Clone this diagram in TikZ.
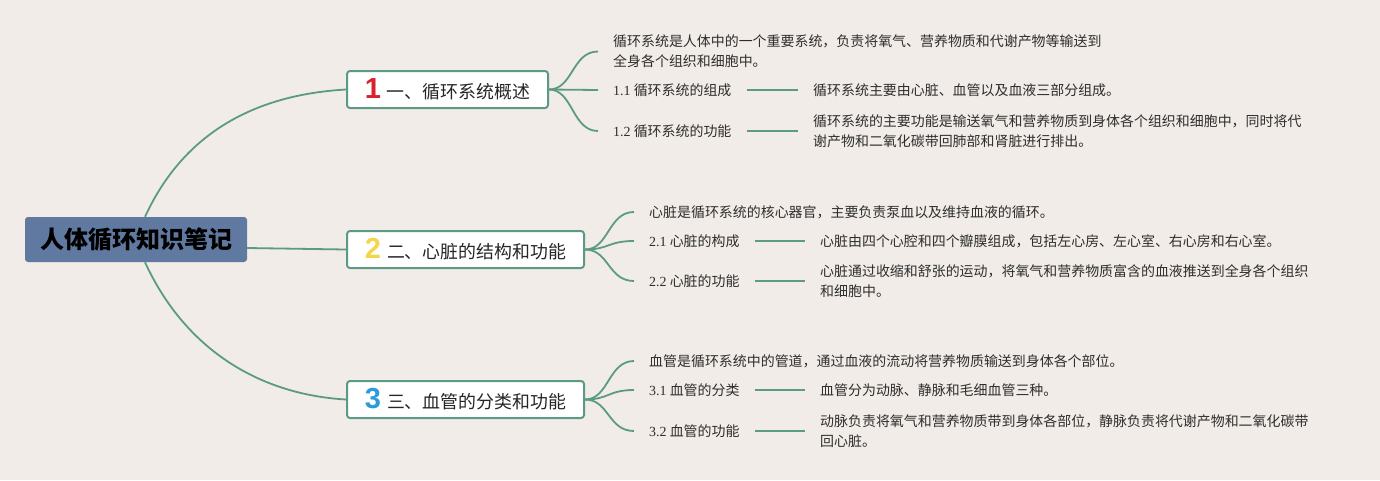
\documentclass[tikz,border=0pt]{standalone}
\usepackage{fontspec}
\setmainfont{Noto Sans CJK SC}
\newfontfamily\digserif{Liberation Serif}
\newfontfamily\numfont{Liberation Sans}
\definecolor{bg}{HTML}{F1ECE7}
\definecolor{tealc}{HTML}{5B9A85}
\definecolor{rootfill}{HTML}{6079A0}
\definecolor{txt}{HTML}{2E2E2E}
\definecolor{nred}{HTML}{D8232F}
\definecolor{nyellow}{HTML}{F3D54E}
\definecolor{nblue}{HTML}{2D9BD9}
\newcommand{\bnum}[2]{{\numfont\fontsize{29}{30}\selectfont\bfseries\color{#1}#2}\hspace{6pt}}
\newcommand{\dg}[1]{{\digserif #1}}
\begin{document}
\begin{tikzpicture}[x=1pt,y=-1pt,
 rootbox/.style={fill=rootfill, rounded corners=3pt, minimum width=222pt, minimum height=45pt, inner sep=0pt, font=\fontsize{24}{28}\selectfont\bfseries, text=black},
 branchbox/.style={draw=tealc, line width=2pt, fill=white, rounded corners=3pt, minimum height=37pt, inner sep=0pt, font=\fontsize{17.9}{20}\selectfont, text=black!85},
 leaf/.style={anchor=west, inner xsep=15pt, inner ysep=2pt, align=left, font=\fontsize{13.95}{20}\selectfont, text=txt},
 link/.style={draw=tealc, line width=1.8pt},
]
\fill[bg] (0,0) rectangle (1380,480);
\useasboundingbox (0,0) rectangle (1380,480);

% root
\node[rootbox] (root) at (136,239.5) {人体循环知识笔记};

% branches
\node[branchbox, minimum width=201pt] (b1) at (447.5,89.5) {\bnum{nred}{1}一、循环系统概述};
\node[branchbox, minimum width=237pt] (b2) at (465.5,249.5) {\bnum{nyellow}{2}二、心脏的结构和功能};
\node[branchbox, minimum width=237pt] (b3) at (465.5,399.5) {\bnum{nblue}{3}三、血管的分类和功能};

% root links
\draw[link] ([xshift=9pt]root.north) .. controls +(40,-87) and +(-87,5) .. (b1.west);
\draw[link] ([yshift=-8.5pt]root.east) -- (b2.west);
\draw[link] ([xshift=9pt]root.south) .. controls +(40,87) and +(-87,-5) .. (b3.west);

% branch 1 children
\node[leaf] (c10) at (598,51.5) {循环系统是人体中的一个重要系统，负责将氧气、营养物质和代谢产物等输送到\\全身各个组织和细胞中。};
\node[leaf] (c11) at (598,90) {\dg{1.1} 循环系统的组成};
\node[leaf] (c12) at (598,131) {\dg{1.2} 循环系统的功能};
\node[leaf] (d11) at (798,90) {循环系统主要由心脏、血管以及血液三部分组成。};
\node[leaf] (d12) at (798,131) {循环系统的主要功能是输送氧气和营养物质到身体各个组织和细胞中，同时将代\\谢产物和二氧化碳带回肺部和肾脏进行排出。};

% branch 2 children
\node[leaf] (c20) at (634,212) {心脏是循环系统的核心器官，主要负责泵血以及维持血液的循环。};
\node[leaf] (c21) at (634,241) {\dg{2.1} 心脏的构成};
\node[leaf] (c22) at (634,281) {\dg{2.2} 心脏的功能};
\node[leaf] (d21) at (805,241) {心脏由四个心腔和四个瓣膜组成，包括左心房、左心室、右心房和右心室。};
\node[leaf] (d22) at (805,281) {心脏通过收缩和舒张的运动，将氧气和营养物质富含的血液推送到全身各个组织\\和细胞中。};

% branch 3 children
\node[leaf] (c30) at (634,361) {血管是循环系统中的管道，通过血液的流动将营养物质输送到身体各个部位。};
\node[leaf] (c31) at (634,390) {\dg{3.1} 血管的分类};
\node[leaf] (c32) at (634,431) {\dg{3.2} 血管的功能};
\node[leaf] (d31) at (805,390) {血管分为动脉、静脉和毛细血管三种。};
\node[leaf] (d32) at (805,431) {动脉负责将氧气和营养物质带到身体各部位，静脉负责将代谢产物和二氧化碳带\\回心脏。};

% branch links
\draw[link] (b1.east) .. controls +(24,0) and +(-26,0) .. (c10.west);
\draw[link] (b1.east) -- (c11.west);
\draw[link] (b1.east) .. controls +(24,0) and +(-26,0) .. (c12.west);
\draw[link] (b2.east) .. controls +(24,0) and +(-26,0) .. (c20.west);
\draw[link] (b2.east) .. controls +(24,0) and +(-26,0) .. (c21.west);
\draw[link] (b2.east) .. controls +(24,0) and +(-26,0) .. (c22.west);
\draw[link] (b3.east) .. controls +(24,0) and +(-26,0) .. (c30.west);
\draw[link] (b3.east) .. controls +(24,0) and +(-26,0) .. (c31.west);
\draw[link] (b3.east) .. controls +(24,0) and +(-26,0) .. (c32.west);

% leaf links
\draw[link] (c11.east) -- (d11.west);
\draw[link] (c12.east) -- (d12.west |- c12.east);
\draw[link] (c21.east) -- (d21.west);
\draw[link] (c22.east) -- (d22.west |- c22.east);
\draw[link] (c31.east) -- (d31.west);
\draw[link] (c32.east) -- (d32.west |- c32.east);
\end{tikzpicture}
\end{document}
